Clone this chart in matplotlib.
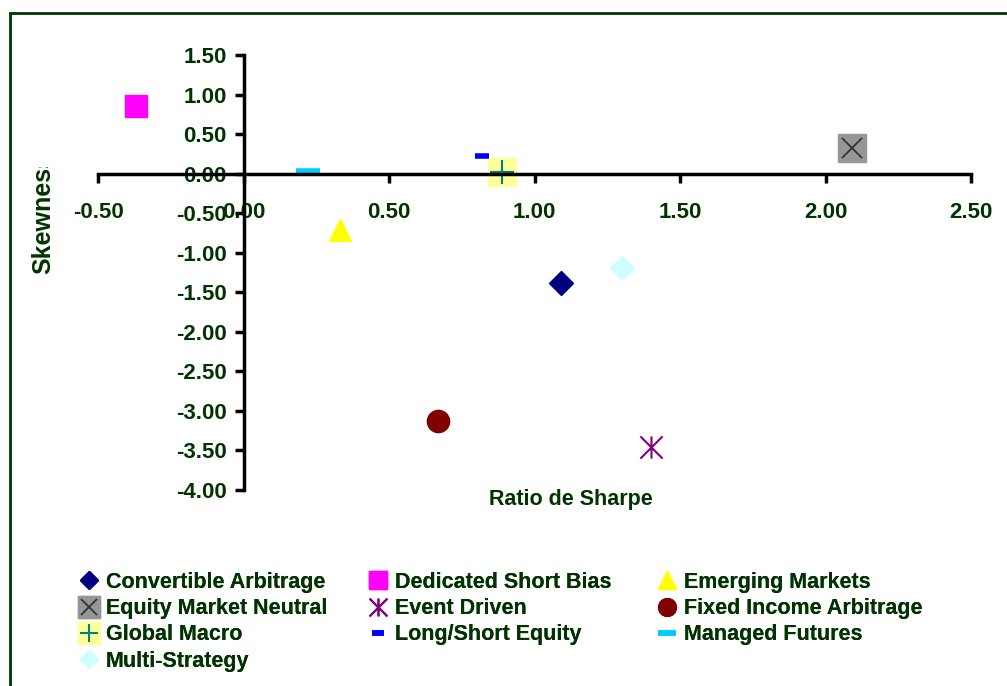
import matplotlib
matplotlib.use("Agg")
import matplotlib.pyplot as plt
from matplotlib.path import Path
from matplotlib.patches import Rectangle
from matplotlib.transforms import Bbox, TransformedBbox
from matplotlib.ticker import FormatStrFormatter, MultipleLocator
from matplotlib.legend_handler import HandlerTuple

# Ratio de Sharpe / skewness par stratégie de hedge fund
strategies = ["Convertible Arbitrage", "Dedicated Short Bias", "Emerging Markets",
              "Equity Market Neutral", "Event Driven", "Fixed Income Arbitrage",
              "Global Macro", "Long/Short Equity", "Managed Futures", "Multi-Strategy"]
sharpe = [1.09, -0.37, 0.33, 2.09, 1.40, 0.67, 0.89, 0.82, 0.22, 1.30]
skewness = [-1.38, 0.85, -0.71, 0.32, -3.46, -3.13, 0.02, 0.22, 0.03, -1.19]

green = "#003300"
plt.rcParams["font.family"] = ["Liberation Sans", "DejaVu Sans"]
plt.rcParams["font.weight"] = "bold"

# étoile à 6 branches (X + barre verticale)
star = Path([(0, -1), (0, 1), (-1, -1), (1, 1), (-1, 1), (1, -1)],
            [Path.MOVETO, Path.LINETO, Path.MOVETO, Path.LINETO, Path.MOVETO, Path.LINETO])

fig = plt.figure(figsize=(10.07, 6.86), dpi=100)
ax = fig.add_axes([98 / 1007, 196 / 686, 873 / 1007, 435 / 686])

handles = []
for i, name in enumerate(strategies):
    x, y = sharpe[i], skewness[i]
    if name == "Convertible Arbitrage":
        h = ax.plot(x, y, "D", ms=12, color="#000080", mec="#000080")[0]
    elif name == "Dedicated Short Bias":
        h = ax.plot(x, y, "s", ms=16, color="#FF00FF", mec="#FF00FF")[0]
    elif name == "Emerging Markets":
        h = ax.plot(x, y, "^", ms=16, color="#FFFF00", mec="#FFFF00")[0]
    elif name == "Equity Market Neutral":
        h1 = ax.plot(x, y, "s", ms=20, color="#969696", mec="#969696")[0]
        h2 = ax.plot(x, y, "x", ms=14, mew=1.3, color="#333333")[0]
        h = (h1, h2)
    elif name == "Event Driven":
        h = ax.plot(x, y, marker=star, ms=16, mew=1.5, mfc="none", mec="#800080", ls="none")[0]
    elif name == "Fixed Income Arbitrage":
        h = ax.plot(x, y, "o", ms=16, color="#800000", mec="#800000")[0]
    elif name == "Global Macro":
        h1 = ax.plot(x, y, "s", ms=20, color="#FFFF99", mec="#FFFF99")[0]
        h2 = ax.plot(x, y, "+", ms=17, mew=1.5, color="#008080")[0]
        h = (h1, h2)
    elif name == "Long/Short Equity":
        h = ax.plot(x, y, "_", ms=10, mew=4, color="#0000FF")[0]
    elif name == "Managed Futures":
        h = ax.plot(x, y, "_", ms=17, mew=4, color="#00CCFF")[0]
    else:
        h = ax.plot(x, y, "D", ms=12, color="#CCFFFF", mec="#CCFFFF")[0]
    for a in (h if isinstance(h, tuple) else (h,)):
        a.set_clip_on(False)
    handles.append(h)

ax.set_xlim(-0.5, 2.5)
ax.set_ylim(-4, 1.5)
ax.xaxis.set_major_locator(MultipleLocator(0.5))
ax.yaxis.set_major_locator(MultipleLocator(0.5))
ax.xaxis.set_major_formatter(FormatStrFormatter("%.2f"))
ax.yaxis.set_major_formatter(FormatStrFormatter("%.2f"))

ax.spines["left"].set_position(("data", 0))
ax.spines["bottom"].set_position(("data", 0))
ax.spines["top"].set_visible(False)
ax.spines["right"].set_visible(False)
for s in ("left", "bottom"):
    ax.spines[s].set_linewidth(2.5)
ax.patch.set_alpha(0)
ax.tick_params(axis="both", direction="out", length=6.5, width=2.5,
               labelsize=16, labelcolor=green)
ax.tick_params(axis="x", pad=14)
ax.tick_params(axis="y", pad=5.5)
for lbl in ax.get_xticklabels() + ax.get_yticklabels():
    lbl.set_fontweight("bold")

# titres des axes
fig.text(571 / 1007, 1 - 500 / 686, "Ratio de Sharpe", ha="center", va="center",
         fontsize=15.5, color=green, fontweight="bold")
t = fig.text(43 / 1007, 1 - 274 / 686, "Skewness", rotation=90, ha="center",
             va="bottom", fontsize=18, color=green, fontweight="bold")
t.set_clip_box(TransformedBbox(Bbox([[0, 0], [1, 1 - 167 / 686]]), fig.transFigure))
t.set_clip_on(True)

# cadre de la zone graphique
fig.add_artist(Rectangle((10 / 1007, -0.1), 1.2, 1.1 - 13 / 686, transform=fig.transFigure,
                         fill=False, ec=green, lw=2))

# légende sur 3 colonnes, remplie ligne par ligne
col_x = [78, 367, 656]
for c in range(3):
    idx = list(range(c, len(strategies), 3))
    leg = fig.legend([handles[i] for i in idx], [strategies[i] for i in idx],
                     loc="upper left", bbox_to_anchor=(col_x[c] / 1007, 1 - 572 / 686),
                     frameon=False, ncol=1, numpoints=1, handlelength=1.0, markerscale=0.8,
                     handletextpad=0.3, labelspacing=0.24, borderpad=0, borderaxespad=0,
                     prop={"size": 15.5, "weight": "bold"},
                     handler_map={tuple: HandlerTuple(ndivide=1, pad=0)})
    for txt in leg.get_texts():
        txt.set_color(green)
    fig.add_artist(leg)

fig.savefig("out.png", dpi=100)
